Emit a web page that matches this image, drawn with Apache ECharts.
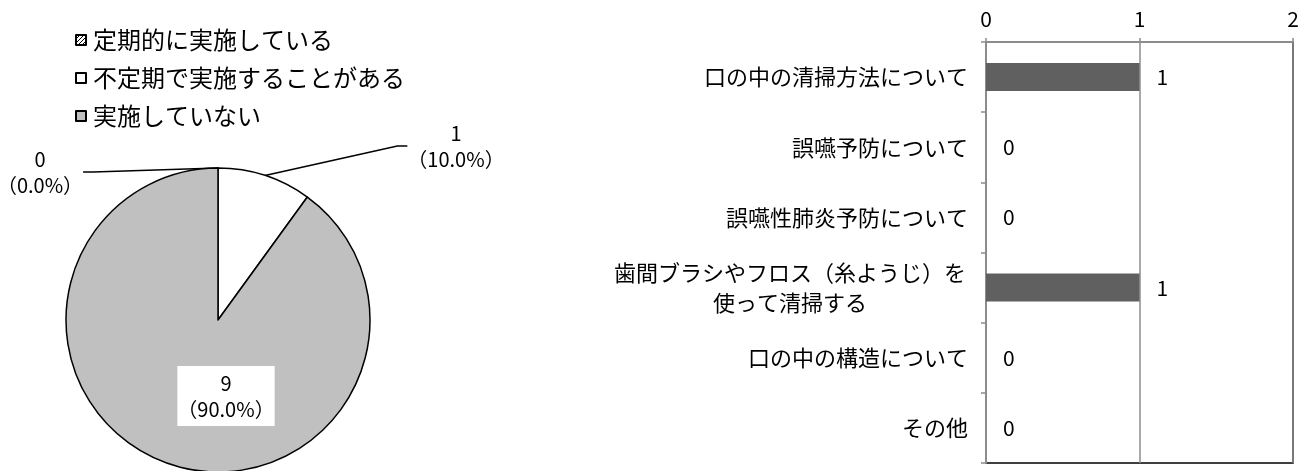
<!DOCTYPE html>
<html>
<head>
<meta charset="utf-8">
<script src="https://cdn.jsdelivr.net/npm/echarts@6/dist/echarts.min.js"></script>
<style>
  html, body { margin: 0; padding: 0; background: #fff; }
  #main { width: 1312px; height: 471px; }
</style>
</head>
<body>
<div id="main"></div>
<script>
// pie data
var pieNames = ['定期的に実施している', '不定期で実施することがある', '実施していない']
var pieValues = [0, 1, 9]
// bar data
var barCats = ['口の中の清掃方法について', '誤嚥予防について', '誤嚥性肺炎予防について',
  '歯間ブラシやフロス（糸ようじ）を\n使って清掃する', '口の中の構造について', 'その他']
var barValues = [1, 0, 0, 1, 0, 0]
var xTicks = [0, 1, 2]

var font = 'Noto Sans CJK JP'

// hatched fill for the first slice / legend icon
function hatch() {
  var c = document.createElement('canvas')
  c.width = 4; c.height = 4
  var g = c.getContext('2d')
  g.fillStyle = '#fff'
  g.fillRect(0, 0, 4, 4)
  g.strokeStyle = '#000'
  g.lineWidth = 1
  g.beginPath()
  g.moveTo(0, 4); g.lineTo(4, 0)
  g.stroke()
  return { image: c, repeat: 'repeat' }
}
var pieColors = [hatch(), '#ffffff', '#c0c0c0']

var labelPos = [
  { x: 40, y: 172 },
  { x: 456, y: 146 },
  { x: 226, y: 396 }
]

var myChart = echarts.init(document.getElementById('main'))
let pieData = []
for (let i = 0; i < pieNames.length; i++) {
  let item = {
    name: pieNames[i],
    value: pieValues[i],
    itemStyle: { color: pieColors[i] }
  }
  if (i == 2) {
    item.label = {
      position: 'inside',
      backgroundColor: '#fff',
      padding: [5, 0, 3, 0]
    }
  }
  pieData.push(item)
}

let option = {
  animation: false,
  textStyle: { fontFamily: font },
  legend: {
    orient: 'vertical',
    left: 70,
    top: 23,
    icon: 'rect',
    itemWidth: 10,
    itemHeight: 10,
    itemGap: 14,
    textStyle: { fontSize: 24, color: '#000', fontFamily: font, padding: [0, 0, 0, 2] },
    data: pieNames
  },
  grid: {
    left: 986,
    right: 19,
    top: 42,
    bottom: 8,
    show: true,
    borderColor: '#000',
    borderWidth: 1.5
  },
  xAxis: {
    type: 'value',
    position: 'top',
    min: xTicks[0],
    max: xTicks[xTicks.length - 1],
    interval: 1,
    axisLine: { show: true, lineStyle: { color: '#8c8c8c', width: 2 } },
    axisTick: { show: true, length: 4, lineStyle: { color: '#8c8c8c', width: 1.5 } },
    axisLabel: { color: '#000', fontSize: 21, fontFamily: font, margin: 12 },
    splitLine: { show: true, lineStyle: { color: '#8c8c8c', width: 1.5 } }
  },
  yAxis: {
    type: 'category',
    inverse: true,
    data: barCats,
    axisLine: { show: true, lineStyle: { color: '#8c8c8c', width: 2 } },
    axisTick: { show: true, length: 5, lineStyle: { color: '#8c8c8c', width: 1.5 } },
    axisLabel: {
      color: '#000',
      fontSize: 22,
      fontFamily: font,
      margin: 18,
      lineHeight: 30,
      formatter: function (v) {
        if (v.indexOf('\n') < 0) return v
        return v.split('\n').map(function (s) { return '{c|' + s + '}' }).join('\n')
      },
      rich: {
        c: { width: 356, align: 'center', fontSize: 22, lineHeight: 30, fontFamily: font, color: '#000' }
      }
    }
  },
  series: [{
    type: 'pie',
    center: [218, 320],
    radius: 152,
    startAngle: 90,
    clockwise: true,
    avoidLabelOverlap: false,
    itemStyle: { borderColor: '#000', borderWidth: 1.5 },
    emphasis: { disabled: true },
    label: {
      show: true,
      color: '#000',
      fontSize: 20,
      lineHeight: 26,
      fontFamily: font,
      align: 'center',
      formatter: function (p) {
        return p.value + '\n（' + p.percent.toFixed(1) + '%）'
      }
    },
    labelLine: { show: true, length: 20, length2: 10, lineStyle: { color: '#000', width: 1.5 } },
    labelLayout: function (params) {
      let pos = labelPos[params.dataIndex]
      return { x: pos.x, y: pos.y, align: 'center', verticalAlign: 'middle' }
    },
    data: pieData
  }, {
    type: 'bar',
    data: barValues,
    barWidth: 28,
    itemStyle: { color: '#606060' },
    label: {
      show: true,
      position: 'right',
      distance: 17,
      color: '#000',
      fontSize: 21,
      fontFamily: font
    }
  }]
}
myChart.setOption(option)
</script>
</body>
</html>
